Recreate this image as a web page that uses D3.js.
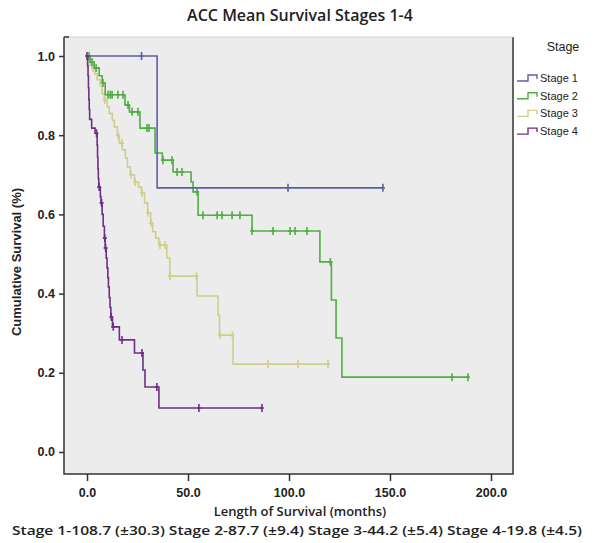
<!DOCTYPE html>
<html>
<head>
<meta charset="utf-8">
<script src="https://cdn.jsdelivr.net/npm/d3@7/dist/d3.min.js"></script>
<style>
  body { margin: 0; background: #fff; }
</style>
</head>
<body>
<div id="chart"></div>
<script>

// stages and colours
const stages = ["Stage 1", "Stage 2", "Stage 3", "Stage 4"];
const colors = ["#5c5fa8", "#4fae41", "#cfce8e", "#702f84"];

// step points [months, cumulative survival]
const stage1Steps = [[0, 1], [34.7, 0.667]];
const stage1End = 146.5;
const stage1Censor = [27, 99.5, 146.5];

const stage2Steps = [[0, 1], [1.5, 0.985], [3.5, 0.97], [6, 0.95], [7.5, 0.932], [9, 0.902],
  [18.8, 0.876], [21, 0.859], [26.2, 0.818], [33.7, 0.755], [37.3, 0.737], [42.6, 0.707],
  [51.5, 0.682], [52.5, 0.657], [55, 0.598], [81.7, 0.558], [115.3, 0.48], [121, 0.384],
  [123.3, 0.288], [126.2, 0.189]];
const stage2End = 188.6;
const stage2Censor = [1, 2.5, 4.5, 7.9, 10.4, 11.5, 12.4, 15.3, 17.8, 20.3, 22.3, 25.2, 29.7,
  30.7, 37.6, 42.1, 44.6, 47, 54.5, 57.4, 64.4, 66.8, 71.8, 75.7, 81.7, 92.1, 100.5, 103,
  108.9, 120.5, 180.7, 188.6];

const stage3Steps = [[0, 1], [1, 0.985], [2.5, 0.97], [4, 0.955], [5, 0.94], [6.5, 0.925],
  [7.5, 0.905], [8.5, 0.889], [10, 0.872], [11, 0.855], [12.5, 0.838], [13.5, 0.821],
  [15, 0.8], [16, 0.78], [17.5, 0.763], [19, 0.742], [20, 0.72], [21.5, 0.7], [23.5, 0.682],
  [25.5, 0.669], [27, 0.654], [28.5, 0.629], [30, 0.604], [31.5, 0.578], [32.5, 0.556],
  [34, 0.54], [35.5, 0.523], [39.5, 0.49], [41, 0.444], [54.5, 0.394], [64.9, 0.345],
  [65.6, 0.295], [72.3, 0.222]];
const stage3End = 119.3;
const stage3Censor = [1.5, 3, 8.9, 15.3, 17.3, 21.8, 23.8, 27.2, 30.2, 31.7, 36.1, 38.6,
  41.1, 54.2, 65.8, 72, 89.6, 104.5, 119.3];

const stage4Steps = [[0, 1], [0.3, 0.975], [0.5, 0.95], [0.7, 0.92], [0.9, 0.89], [1.1, 0.865],
  [1.3, 0.84], [2.3, 0.818], [4, 0.805], [5, 0.775], [5.2, 0.745], [5.4, 0.715], [5.6, 0.69],
  [5.8, 0.669], [6.6, 0.645], [6.9, 0.629], [7.5, 0.6], [8, 0.57], [8.6, 0.54], [9, 0.515],
  [9.5, 0.49], [9.9, 0.465], [10.3, 0.44], [10.6, 0.417], [11, 0.39], [11.4, 0.365],
  [11.8, 0.341], [12.6, 0.316], [16, 0.283], [23.5, 0.25], [27.7, 0.207], [28.7, 0.164],
  [35.6, 0.111]];
const stage4End = 86.6;
const stage4Censor = [0, 4.7, 6, 7.2, 8.8, 9.2, 12, 13, 17.3, 27.2, 34.6, 55.4, 86.6];

const xTicks = [0, 50, 100, 150, 200];
const yTicks = [0, 0.2, 0.4, 0.6, 0.8, 1.0];
const meanText = "Stage 1-108.7 (\u00b130.3)  Stage 2-87.7 (\u00b19.4)  Stage 3-44.2 (\u00b15.4)  Stage 4-19.8 (\u00b14.5)";

var width = 596;
var height = 543;
var box = ({left: 64, right: 513, top: 37, bottom: 474});

var svg = d3.select("#chart")
  .append("svg")
    .attr("width", width)
    .attr("height", height);

var xScale = d3.scaleLinear()
  .domain([-11.4, 210.9])
  .range([box.left, box.right]);

var yScale = d3.scaleLinear()
  .domain([-0.0556, 1.048])
  .range([box.bottom, box.top]);

// plot background
svg.append("rect")
  .attr("x", box.left).attr("y", box.top)
  .attr("width", box.right - box.left).attr("height", box.bottom - box.top)
  .attr("fill", "#ececec");

// frame: left, bottom, right dark; top light
svg.append("path")
  .attr("d", `M${box.left},${box.top} V${box.bottom} H${box.right} V${box.top}`)
  .attr("fill", "none").attr("stroke", "#333").attr("stroke-width", 1.5);
svg.append("line")
  .attr("x1", box.left).attr("x2", box.right).attr("y1", box.top).attr("y2", box.top)
  .attr("stroke", "#d6d6d6");
svg.append("line")
  .attr("x1", box.left).attr("x2", box.left + 5).attr("y1", box.top).attr("y2", box.top)
  .attr("stroke", "#333").attr("stroke-width", 1.5);

// axes
var xAxis = svg.append("g")
  .attr("transform", `translate(0,${box.bottom})`)
  .call(d3.axisBottom(xScale).tickValues(xTicks).tickFormat(d3.format(".1f")).tickSize(7).tickSizeOuter(0));
var yAxis = svg.append("g")
  .attr("transform", `translate(${box.left},0)`)
  .call(d3.axisLeft(yScale).tickValues(yTicks).tickFormat(d3.format(".1f")).tickSize(5).tickSizeOuter(0));

xAxis.select(".domain").remove();
yAxis.select(".domain").remove();
svg.selectAll(".tick line").attr("stroke", "#333").attr("stroke-width", 1.5);
svg.selectAll(".tick text")
  .attr("font-family", "Liberation Sans, Arial, sans-serif")
  .attr("font-size", 12.5)
  .attr("font-weight", "bold")
  .attr("fill", "#222");
xAxis.selectAll(".tick text").attr("dy", "1.0em");
yAxis.selectAll(".tick text").attr("dx", "-1px");

// step lookup for censor marks
function survivalAt(steps, t) {
  let s = steps[0][1];
  for (const p of steps) { if (p[0] <= t) s = p[1]; }
  return s;
}

var series = [
  {steps: stage1Steps, end: stage1End, censor: stage1Censor, color: colors[0]},
  {steps: stage2Steps, end: stage2End, censor: stage2Censor, color: colors[1]},
  {steps: stage3Steps, end: stage3End, censor: stage3Censor, color: colors[2]},
  {steps: stage4Steps, end: stage4End, censor: stage4Censor, color: colors[3]}
];

var line = d3.line().curve(d3.curveStepAfter)
  .x(d => xScale(d[0]))
  .y(d => yScale(d[1]));

// draw order: 3, 2, 1, 4
var drawOrder = [2, 1, 0, 3];
drawOrder.forEach(function(i) {
  let s = series[i];
  let pts = s.steps.concat([[s.end, s.steps[s.steps.length - 1][1]]]);
  let g = svg.append("g");
  g.append("path")
    .datum(pts)
    .attr("fill", "none")
    .attr("stroke", s.color)
    .attr("stroke-width", 1.6)
    .attr("d", line);
  g.selectAll(".censor")
    .data(s.censor)
    .join("path")
      .attr("class", "censor")
      .attr("fill", "none")
      .attr("stroke", s.color)
      .attr("stroke-width", 1.6)
      .attr("d", function(t) {
        let cx = xScale(t), cy = yScale(survivalAt(s.steps, t));
        return `M${cx},${cy - 4} V${cy + 4} M${cx - 2},${cy} H${cx + 2}`;
      });
});

// legend
var legend = svg.append("g");
legend.append("text")
  .attr("x", 563).attr("y", 51)
  .attr("text-anchor", "middle")
  .attr("font-family", "Liberation Sans, Arial, sans-serif")
  .attr("font-size", 12.5)
  .attr("fill", "#222")
  .text("Stage");

stages.forEach(function(name, i) {
  let ly = 78 + i * 17.7;
  legend.append("path")
    .attr("d", `M517,${ly + 3} H528 V${ly - 3} H537 V${ly + 1}`)
    .attr("fill", "none")
    .attr("stroke", colors[i])
    .attr("stroke-width", 1.4);
  legend.append("text")
    .attr("x", 540).attr("y", ly + 4)
    .attr("font-family", "Liberation Sans, Arial, sans-serif")
    .attr("font-size", 11)
    .attr("fill", "#222")
    .text(name);
});

// titles
svg.append("text")
  .attr("x", 300).attr("y", 21)
  .attr("text-anchor", "middle")
  .attr("font-family", "Open Sans, sans-serif")
  .attr("font-size", 16)
  .attr("font-weight", 600)
  .attr("fill", "#222")
  .text("ACC Mean Survival Stages 1-4");

svg.append("text")
  .attr("text-anchor", "middle")
  .attr("transform", "translate(21,262) rotate(-90)")
  .attr("font-family", "Liberation Sans, Arial, sans-serif")
  .attr("font-size", 13)
  .attr("font-weight", "bold")
  .attr("fill", "#222")
  .text("Cumulative Survival (%)");

svg.append("text")
  .attr("x", 300).attr("y", 516)
  .attr("text-anchor", "middle")
  .attr("font-family", "Open Sans, sans-serif")
  .attr("font-size", 13)
  .attr("font-weight", 600)
  .attr("fill", "#222")
  .text("Length of Survival (months)");

svg.append("text")
  .attr("x", 297).attr("y", 535)
  .attr("text-anchor", "middle")
  .attr("font-family", "Open Sans, sans-serif")
  .attr("font-size", 12.5)
  .attr("font-weight", 600)
  .attr("fill", "#222")
  .attr("textLength", 570)
  .attr("lengthAdjust", "spacingAndGlyphs")
  .text(meanText);

</script>
</body>
</html>
